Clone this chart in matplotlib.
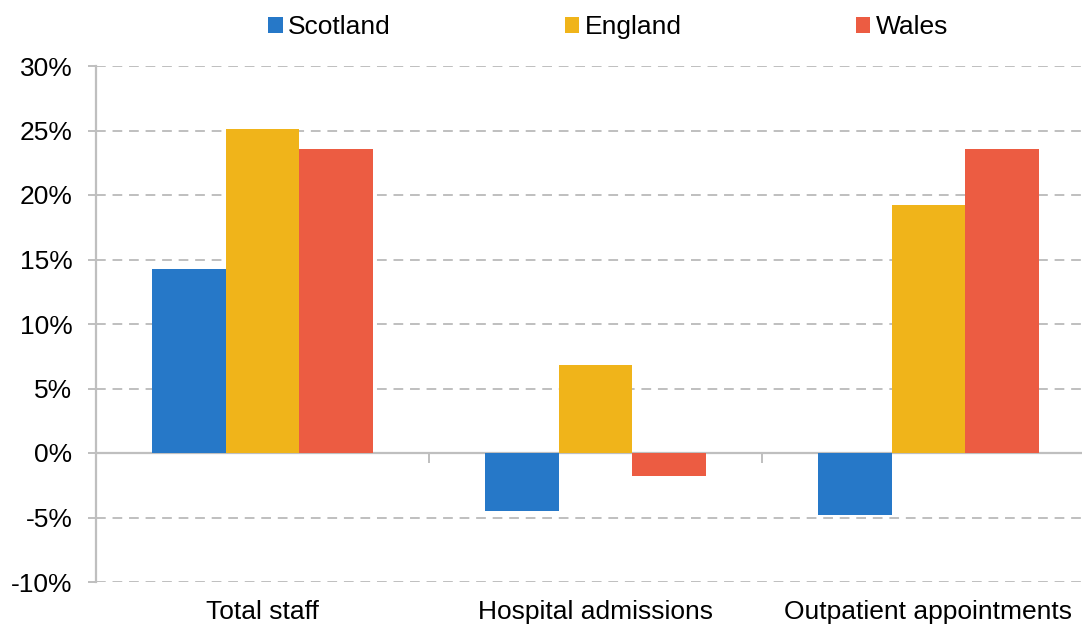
import matplotlib.pyplot as plt
import numpy as np

plt.rcParams['font.family'] = ['Liberation Sans', 'DejaVu Sans']

# Data
categories = ['Total staff', 'Hospital admissions', 'Outpatient appointments']
series = ['Scotland', 'England', 'Wales']
scotland = [14.3, -4.5, -4.8]
england = [25.1, 6.8, 19.2]
wales = [23.6, -1.8, 23.6]
colours = ['#2678C8', '#F0B41A', '#EC5C42']

values = [scotland, england, wales]

fig = plt.figure(figsize=(10.82, 6.26), dpi=100)
ax = fig.add_axes([96/1082, 44/626, 999/1082, 516/626])

grey = '#BFBFBF'
fs = 19
bar_w = 0.222
x = np.arange(len(categories)) + 0.5

for i, (name, vals, col) in enumerate(zip(series, values, colours)):
    ax.bar(x + (i - 1) * bar_w, vals, width=bar_w, color=col, label=name, zorder=3)

ax.set_xlim(0, 3)
ax.set_ylim(-10, 30)
ax.set_yticks(np.arange(-10, 31, 5))
ax.set_yticklabels([f'{v}%' for v in range(-10, 31, 5)])

# gridlines
ax.yaxis.grid(True, color=grey, linestyle=(0, (5, 3.5)), linewidth=1.4, zorder=0)
ax.axhline(0, color=grey, linewidth=1.6, zorder=2)

for s in ['top', 'right', 'bottom']:
    ax.spines[s].set_visible(False)
ax.spines['left'].set_color(grey)
ax.spines['left'].set_linewidth(1.6)

ax.tick_params(axis='y', length=6, color=grey, width=1.4, labelsize=fs, pad=11)
ax.set_xticks(x)
ax.set_xticklabels(categories)
ax.tick_params(axis='x', length=0, labelsize=fs, pad=13)

# tick marks on the zero line between categories
sec = ax.secondary_xaxis(0.25)
sec.set_xticks([1, 2])
sec.set_xticklabels(['', ''])
sec.tick_params(length=7, color=grey, width=1.4)
sec.spines['bottom'].set_visible(False)

fig.legend(loc='center', bbox_to_anchor=(608/1082, 1 - 27/626), ncol=3,
           frameon=False, fontsize=fs, handlelength=0.55, handleheight=0.55,
           handletextpad=0.2, columnspacing=6.6)

fig.savefig('out.png', dpi=100)
